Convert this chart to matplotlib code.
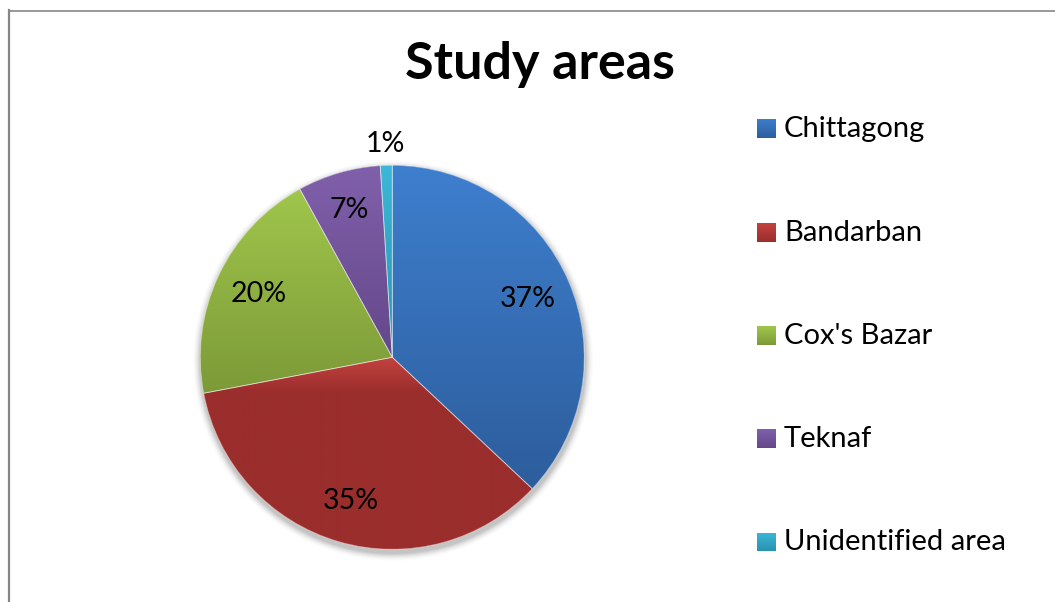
import numpy as np
import matplotlib as mpl
mpl.use("Agg")
import matplotlib.pyplot as plt
from matplotlib.patches import Wedge, Circle
from matplotlib.lines import Line2D
from matplotlib.colors import LinearSegmentedColormap

mpl.rcParams.update({
    "font.family": ["Lato", "DejaVu Sans"],
})

# --- Data ---
areas = ["Chittagong", "Bandarban", "Cox's Bazar", "Teknaf", "Unidentified area"]
shares = [37, 35, 20, 7, 1]
labels = ["37%", "35%", "20%", "7%", "1%"]

# light (top) / dark (bottom) shades per slice
tops = ["#3E7FCE", "#C4423F", "#A0C64C", "#8160AB", "#3CB8D8"]
bottoms = ["#2D5D9C", "#9A2E2C", "#7C9A38", "#634889", "#2892AE"]
dark_at = [1.0, 0.18, 1.0, 1.0, 1.0]     # where the shading reaches the dark shade
label_dist = [0.77, 0.78, 0.77, 0.80, 1.11]

W, H = 1055, 602
fig = plt.figure(figsize=(W / 100, H / 100), dpi=100)

# outer chart-area frame (left and top edges visible)
fig.add_artist(Line2D([9 / W, 9 / W], [0, 1 - 10 / H], color="#868686",
                      linewidth=1.6, transform=fig.transFigure))
fig.add_artist(Line2D([9 / W, 1], [1 - 10.5 / H, 1 - 10.5 / H], color="#868686",
                      linewidth=1.2, transform=fig.transFigure))

fig.text(539.5 / W, 1 - 79 / H, "Study areas", fontsize=37.5, fontweight="bold",
         ha="center", va="baseline")

# --- Pie ---
cx, cy, R = 392.3, 357.3, 192
ax = fig.add_axes([(cx - R * 1.1) / W, (H - cy - R * 1.1) / H,
                   2.2 * R / W, 2.2 * R / H])
ax.axis("off")

# soft drop shadow
for k, a in enumerate(np.linspace(0.06, 0.012, 7)):
    ax.add_patch(Circle((0.004, -0.018), 1.0 + 0.006 * (k + 1), color="k",
                        alpha=a, linewidth=0, zorder=0))

wedges, _ = ax.pie(shares, startangle=90, counterclock=False, radius=1.0,
                   colors=tops, wedgeprops=dict(linewidth=0))
ax.set_aspect("auto")

grad = np.linspace(0, 1, 256).reshape(-1, 1)
for w, c0, c1, p in zip(wedges, tops, bottoms, dark_at):
    w.set_zorder(1)
    ext = w.get_path().get_extents()
    cmap = LinearSegmentedColormap.from_list("g", [(0, c0), (p, c1), (1, c1)])
    im = ax.imshow(grad, cmap=cmap, aspect="auto", zorder=2,
                   extent=[ext.x0, ext.x1, ext.y0, ext.y1], interpolation="bilinear")
    im.set_clip_path(w)
    ax.add_patch(Wedge(w.center, w.r, w.theta1, w.theta2, facecolor="none",
                       edgecolor="white", linewidth=0.6, alpha=0.5, zorder=3))

ax.set_xlim(-1.1, 1.1)
ax.set_ylim(-1.1, 1.1)

for w, txt, d in zip(wedges, labels, label_dist):
    mid = np.deg2rad((w.theta1 + w.theta2) / 2)
    ax.text(d * np.cos(mid), d * np.sin(mid), txt, fontsize=20.5,
            ha="center", va="center", zorder=4)

# --- Legend ---
step = 103.25
for i, (name, c0, c1) in enumerate(zip(areas, tops, bottoms)):
    base = 137.5 + i * step
    kax = fig.add_axes([757 / W, (H - base - 1) / H, 19 / W, 19 / H])
    kax.imshow(grad, cmap=LinearSegmentedColormap.from_list("k", [c0, c1]),
               aspect="auto", extent=[0, 1, 0, 1])
    kax.axis("off")
    fig.text(784 / W, 1 - base / H, name, fontsize=21, ha="left", va="baseline")

fig.savefig("out.png", dpi=100)
